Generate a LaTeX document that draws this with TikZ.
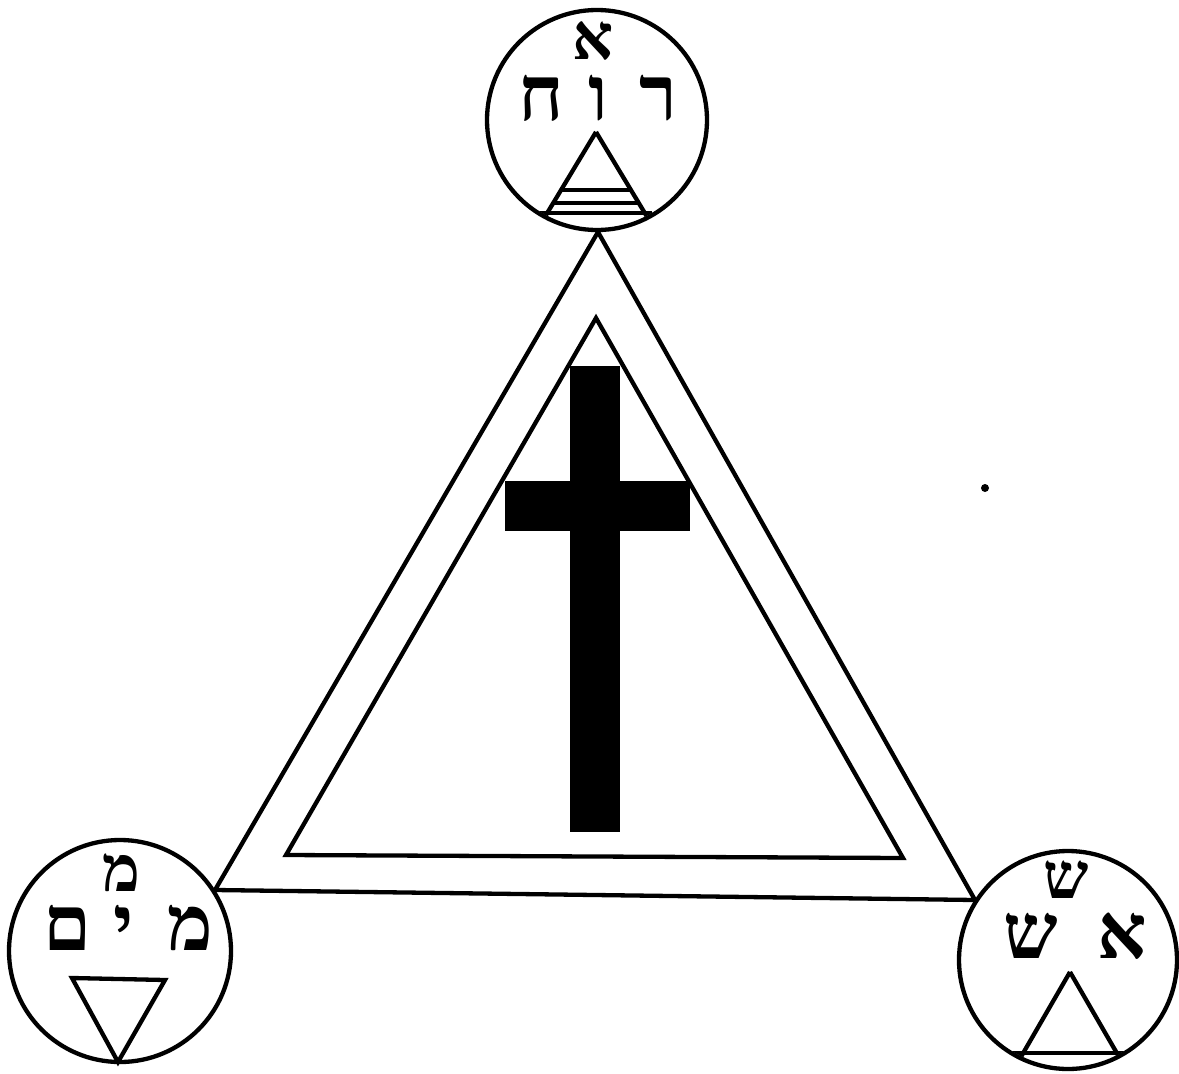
\documentclass[tikz,border=0pt]{standalone}
\usepackage{fontspec}
\newfontfamily\hebfont[Script=Hebrew]{Liberation Serif}
\begin{document}
\begin{tikzpicture}[x=1pt,y=-1pt,
  ln/.style={line width=4.3pt, line join=miter},
  heb/.style={font=\hebfont\bfseries\fontsize{77}{79}\selectfont, inner sep=0pt, anchor=base, text height=40pt, text depth=0pt},
  hebs/.style={font=\hebfont\bfseries\fontsize{64}{66}\selectfont, inner sep=0pt, anchor=base, text height=34pt, text depth=0pt}]
\useasboundingbox (0,0) rectangle (1179,1074);
\fill[white] (0,0) rectangle (1179,1074);

% main triangles
\coordinate (TA) at (598,232);
\coordinate (TL) at (215,890);
\coordinate (TR) at (975,900);
\draw[ln] (TA) -- (TL) -- (TR) -- cycle;
\coordinate (IA) at (596,318);
\coordinate (IL) at (286,855);
\coordinate (IR) at (903,858);
\draw[ln] (IA) -- (IL) -- (IR) -- cycle;

% cross
\fill (570,366) rectangle (620,832);
\fill (505,481) rectangle (690,531);

% speck
\fill (985,488) circle (4);

% top circle (air)
\node[draw, circle, ln, minimum size=220pt, fill=white] (air) at (597,120) {};
\begin{scope}
\clip (597,120) circle (108);
\draw[ln] (596,132) -- (540,225) (596,132) -- (652,225);
\draw[ln] (561,190) -- (631,190);
\draw[ln] (553,203) -- (639,203);
\draw[ln] (540,213) -- (652,213);
\end{scope}
\node[hebs] (aleph1) at (593,59) {א};
\node[heb] (resh) at (658,120) {ר};
\node[heb] (vav) at (598,120) {ו};
\node[heb] (het) at (541,120) {ח};

% bottom-left circle (water)
\node[draw, circle, ln, minimum size=222pt, fill=white] (water) at (120,951) {};
\draw[ln] (72,978) -- (165,980) -- (118,1062) -- cycle;
\node[hebs] (mem1) at (121,891) {מ};
\node[heb] (memfinal) at (68,950) {ם};
\node[heb] (yod) at (124,950) {י};
\node[heb] (mem2) at (190,950) {מ};

% bottom-right circle (fire)
\node[draw, circle, ln, minimum size=218pt, fill=white] (fire) at (1068,960) {};
\begin{scope}
\clip (1068,960) circle (107);
\draw[ln] (1070,972) -- (1018,1062) (1070,972) -- (1122,1062);
\draw[ln] (1010,1053) -- (1130,1053);
\end{scope}
\node[hebs] (shin1) at (1066,898) {ש};
\node[heb] (shin2) at (1031,958) {ש};
\node[heb] (aleph2) at (1122,958) {א};
\end{tikzpicture}
\end{document}
